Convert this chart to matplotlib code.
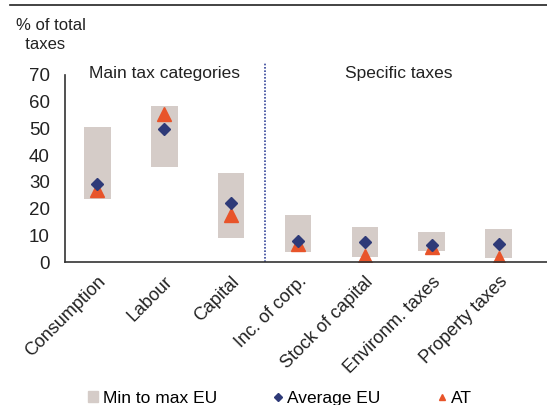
import matplotlib.pyplot as plt
from matplotlib.lines import Line2D
from matplotlib.patches import Patch

plt.rcParams['font.family'] = ['Liberation Sans', 'DejaVu Sans']

# dados: participação nos impostos totais (%)
categorias = ['Consumption', 'Labour', 'Capital', 'Inc. of corp.',
              'Stock of capital', 'Environm. taxes', 'Property taxes']
min_eu = [23.6, 35.6, 9.0, 3.7, 1.9, 4.2, 1.5]
max_eu = [50.5, 58.4, 33.4, 17.6, 13.1, 11.2, 12.5]
media_eu = [29.2, 49.8, 22.2, 7.9, 7.5, 6.4, 6.7]
at = [27.0, 55.4, 17.6, 6.7, 2.4, 5.6, 1.6]

cor_barra = '#d5ccc8'
cor_media = '#2e3a78'
cor_at = '#e8542a'

fig = plt.figure(figsize=(5.47, 4.05), dpi=100)
ax = fig.add_axes([0.119, 0.353, 0.881, 0.462])

x = list(range(len(categorias)))
alturas = [mx - mn for mn, mx in zip(min_eu, max_eu)]
ax.bar(x, alturas, bottom=min_eu, width=0.4, color=cor_barra, zorder=1)
ax.plot(x, media_eu, 'D', color=cor_media, markersize=6.5, zorder=3)
ax.plot(x, at, '^', color=cor_at, markersize=10, zorder=2)

# linha divisória entre os dois grupos
ax.plot([2.5, 2.5], [0, 75], linestyle=(0, (1, 1)), color='#34449a',
        linewidth=1.2, clip_on=False, zorder=0)

ax.set_xlim(-0.48, 6.72)
ax.set_ylim(0, 70)
ax.set_yticks(range(0, 71, 10))
ax.tick_params(axis='both', length=0, labelsize=13.5, colors='#222222')
ax.tick_params(axis='y', pad=11)
ax.tick_params(axis='x', pad=8, labelsize=13)
ax.set_xticks(x)
ax.set_xticklabels(categorias, rotation=45, ha='right', rotation_mode='anchor')

for s in ['top', 'right']:
    ax.spines[s].set_visible(False)
ax.spines['left'].set_color('#333333')
ax.spines['bottom'].set_color('#333333')
ax.spines['left'].set_linewidth(1.2)
ax.spines['bottom'].set_linewidth(1.2)

ax.text(1.0, 70.5, 'Main tax categories', ha='center', va='center',
        fontsize=12.5, color='#222222')
ax.text(4.5, 70.5, 'Specific taxes', ha='center', va='center',
        fontsize=12.5, color='#222222')

fig.text(0.03, 0.955, '% of total\n  taxes', ha='left', va='top',
         fontsize=12, color='#222222', linespacing=1.3)

# linha horizontal no topo
fig.add_artist(Line2D([0.018, 1.0], [0.988, 0.988], color='#222222',
                      linewidth=1.2))

handles = [
    Patch(color=cor_barra),
    Line2D([], [], marker='D', linestyle='', color=cor_media, markersize=4),
    Line2D([], [], marker='^', linestyle='', color=cor_at, markersize=5),
]
fig.legend(handles, ['Min to max EU', 'Average EU', 'AT'], ncol=3,
           loc='center', bbox_to_anchor=(0.512, 0.017), frameon=False,
           fontsize=12.5, handlelength=0.6, handleheight=0.6,
           handletextpad=0.25, columnspacing=3.2)

fig.savefig('out.png', dpi=100)
